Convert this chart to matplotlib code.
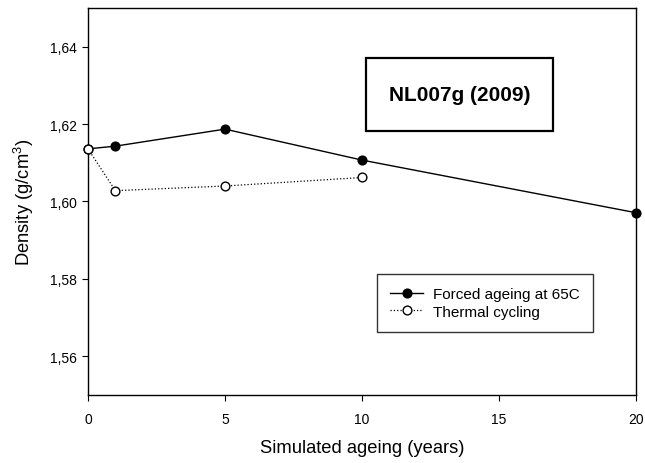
import matplotlib
matplotlib.use("Agg")
import matplotlib.pyplot as plt
from matplotlib.patches import Rectangle
from matplotlib.ticker import FuncFormatter

plt.rcParams['font.family'] = ['Liberation Sans', 'DejaVu Sans']
plt.rcParams['mathtext.fontset'] = 'custom'
plt.rcParams['mathtext.rm'] = 'Liberation Sans'

# density vs simulated ageing time
forced_years = [0, 1, 5, 10, 20]
forced_density = [1.6136, 1.6143, 1.6187, 1.6107, 1.5971]
thermal_years = [0, 1, 5, 10]
thermal_density = [1.6136, 1.6028, 1.6040, 1.6062]
y_ticks = [1.56, 1.58, 1.60, 1.62, 1.64]
x_ticks = [0, 5, 10, 15, 20]

fig = plt.figure(figsize=(6.45, 4.64), dpi=100)
ax = fig.add_axes([0.1364, 0.1466, 0.8496, 0.834])

ax.plot(forced_years, forced_density, color='black', lw=1.0, marker='o',
        ms=6.3, mfc='black', mec='black', clip_on=False, zorder=3,
        label='Forced ageing at 65C')
ax.plot(thermal_years, thermal_density, color='black', lw=0.9, ls=':',
        marker='o', ms=6.3, mfc='white', mec='black', mew=1.0,
        clip_on=False, zorder=4, label='Thermal cycling')

ax.set_xlim(0, 20)
ax.set_ylim(1.55, 1.65)
ax.set_xticks(x_ticks)
ax.set_yticks(y_ticks)
ax.yaxis.set_major_formatter(FuncFormatter(lambda v, p: f"{v:.2f}".replace('.', ',')))
ax.tick_params(axis='x', direction='out', length=4.5, width=0.8, pad=8, labelsize=10)
ax.tick_params(axis='y', direction='out', length=4.5, width=0.8, pad=3.6, labelsize=10)
for s in ax.spines.values():
    s.set_linewidth(1.0)
    s.set_color('black')

ax.set_xlabel('Simulated ageing (years)', fontsize=13.2, labelpad=9)
ax.set_ylabel(r'Density (g/cm$^{\mathregular{3}}$)', fontsize=13.2, labelpad=10)

# sample label box
ax.add_patch(Rectangle((0.507, 0.682), 0.342, 0.189, transform=ax.transAxes,
                       fill=False, ec='black', lw=1.6, zorder=5))
ax.text(0.678, 0.7765, 'NL007g (2009)', transform=ax.transAxes,
        ha='center', va='center', fontsize=15, fontweight='bold')

leg = ax.legend(loc='upper left', bbox_to_anchor=(0.527, 0.3127),
                fontsize=11, frameon=True, fancybox=False, edgecolor='black',
                borderpad=0.85, handlelength=2.2, handletextpad=0.65,
                labelspacing=0.25, borderaxespad=0)
leg.get_frame().set_linewidth(1.0)

fig.savefig('out.png', dpi=100)
